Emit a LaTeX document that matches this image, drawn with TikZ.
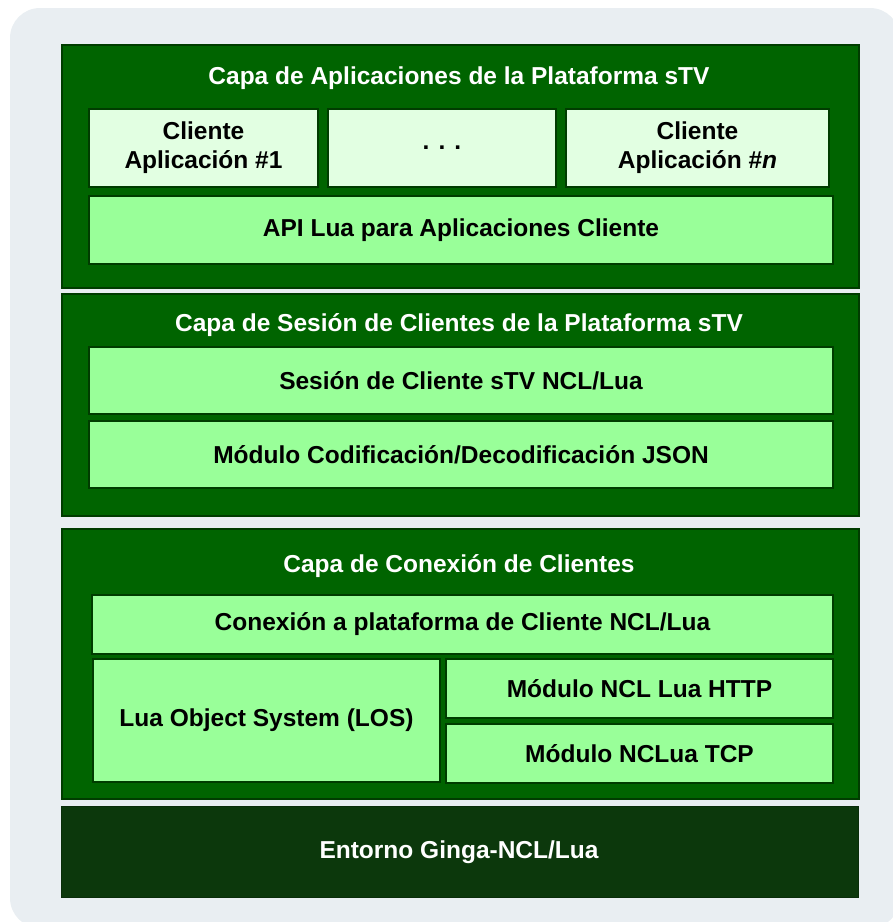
\documentclass[tikz,border=0pt]{standalone}
\usepackage{fontspec}
\setmainfont{Liberation Sans}
\definecolor{bgc}{HTML}{E9EEF2}
\definecolor{layerc}{HTML}{006400}
\definecolor{layerd}{HTML}{003C00}
\definecolor{clientc}{HTML}{E2FFE2}
\definecolor{boxc}{HTML}{99FF99}
\definecolor{basec}{HTML}{0C380C}
\begin{document}
\begin{tikzpicture}[x=1pt,y=-1pt,
  layer/.style={draw=layerd,line width=1.5pt,fill=layerc,anchor=north west,inner sep=0pt},
  baselayer/.style={draw=basec!80!black,line width=1pt,fill=basec,anchor=north west,inner sep=0pt},
  client/.style={draw=layerd,line width=2pt,fill=clientc,anchor=north west,inner sep=0pt,align=center,font=\bfseries\fontsize{24.5}{29}\selectfont},
  modbox/.style={draw=layerd,line width=2pt,fill=boxc,anchor=north west,inner sep=0pt,align=center,font=\bfseries\fontsize{24.5}{29}\selectfont},
  ltitle/.style={text=white,font=\bfseries\fontsize{24.5}{29}\selectfont,inner sep=0pt}]
\useasboundingbox (0,0) rectangle (893,922);
\clip (0,0) rectangle (893,922);
\fill[bgc,rounded corners=30pt] (10,8) rectangle (900,928);
% Layer 1
\node[layer,minimum width=797pt,minimum height=243pt] (L1) at (61,44) {};
\node[ltitle] (T1) at (459,78) {Capa de Aplicaciones de la Plataforma sTV};
\node[client,minimum width=229pt,minimum height=78pt] (C1) at (88,108) {Cliente\\Aplicación \#1};
\node[client,minimum width=228pt,minimum height=78pt] (C2) at (327,108) {. . .};
\node[client,minimum width=263pt,minimum height=78pt] (C3) at (565,108) {Cliente\\Aplicación \#\textit{n}};
\node[modbox,minimum width=744pt,minimum height=68pt] (API) at (88,195) {API Lua para Aplicaciones Cliente};
% Layer 2
\node[layer,minimum width=797pt,minimum height=222pt] (L2) at (61,293) {};
\node[ltitle] (T2) at (459,325) {Capa de Sesión de Clientes de la Plataforma sTV};
\node[modbox,minimum width=744pt,minimum height=67pt] (SES) at (88,346) {Sesión de Cliente sTV NCL/Lua};
\node[modbox,minimum width=744pt,minimum height=67pt] (JSON) at (88,420) {Módulo Codificación/Decodificación JSON};
% Layer 3
\node[layer,minimum width=797pt,minimum height=270pt] (L3) at (61,528) {};
\node[ltitle] (T3) at (459,566) {Capa de Conexión de Clientes};
\node[modbox,minimum width=741pt,minimum height=59pt] (CON) at (91,594) {Conexión a plataforma de Cliente NCL/Lua};
\node[modbox,minimum width=347pt,minimum height=123pt] (LOS) at (92,658) {Lua Object System (LOS)};
\node[modbox,minimum width=387pt,minimum height=59pt] (HTTP) at (445,658) {Módulo NCL Lua HTTP};
\node[modbox,minimum width=387pt,minimum height=59pt] (TCP) at (445,723) {Módulo NCLua TCP};
% Base layer
\node[baselayer,minimum width=797pt,minimum height=91pt] (L4) at (61,806) {};
\node[ltitle] (T4) at (459,852) {Entorno Ginga-NCL/Lua};
\end{tikzpicture}
\end{document}
